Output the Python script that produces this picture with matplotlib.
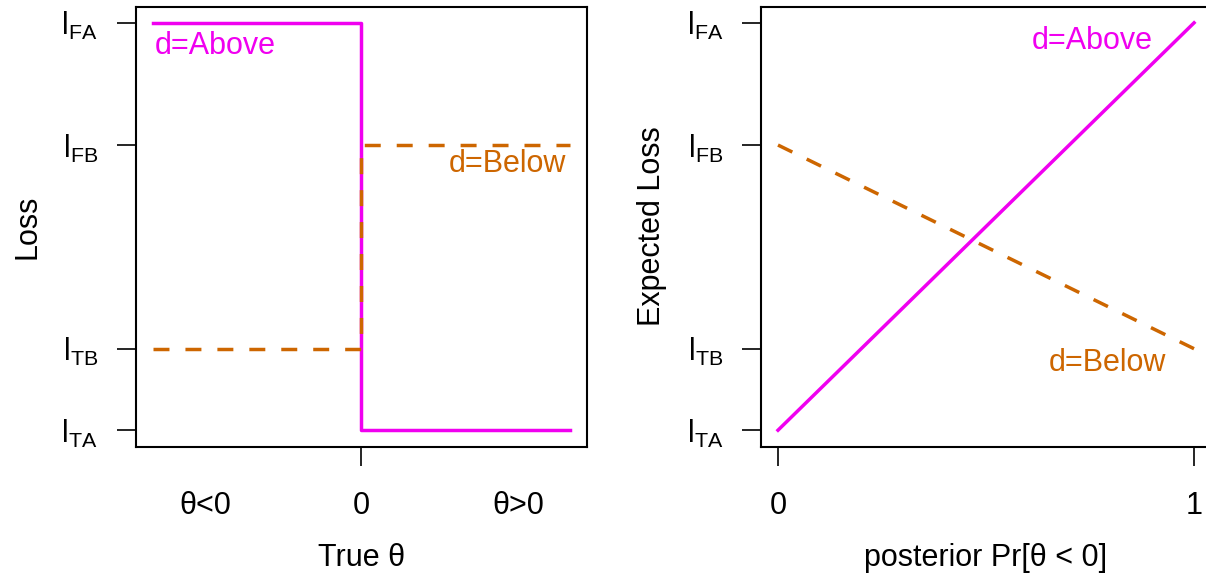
import matplotlib
matplotlib.use("Agg")
import matplotlib.pyplot as plt

matplotlib.rcParams.update({
    "font.family": "Liberation Sans",
    "font.size": 22,
    "mathtext.fontset": "custom",
    "mathtext.rm": "Liberation Sans",
    "mathtext.it": "Liberation Sans:italic",
})

# loss levels (arbitrary units, only the ordering matters)
loss_levels = [0.0, 1.0, 3.5, 5.0]
loss_labels = [r"$\mathregular{l_{TA}}$", r"$\mathregular{l_{TB}}$",
               r"$\mathregular{l_{FB}}$", r"$\mathregular{l_{FA}}$"]
l_TA, l_TB, l_FB, l_FA = loss_levels

# true theta axis: step at 0
theta_pts = [-1, 0, 0, 1]
theta_ticks = [-0.75, 0, 0.75]
theta_ticklabels = [u"\u03b8<0", "0", u"\u03b8>0"]
loss_above = [l_FA, l_FA, l_TA, l_TA]
loss_below = [l_TB, l_TB, l_FB, l_FB]

# posterior probability axis
post_p = [0, 1]
exp_above = [l_TA, l_FA]
exp_below = [l_FB, l_TB]

MAGENTA = "#F000F0"
ORANGE = "#CD6600"
LW = 2.5
DASH = (0, (4.6, 4.6))

fig = plt.figure(figsize=(12.06, 5.78), dpi=100)
ax1 = fig.add_axes([0.1130, 0.2275, 0.3735, 0.7612])
ax2 = fig.add_axes([0.6313, 0.2275, 0.3726, 0.7612])

for ax in (ax1, ax2):
    ax.set_yticks(loss_levels)
    ax.set_yticklabels(loss_labels)
    ax.set_ylim(-0.2, 5.2)
    ax.tick_params(length=13.7, width=1.2, pad=14, direction="out")
    ax.tick_params(axis="x", pad=18)
    for s in ax.spines.values():
        s.set_linewidth(1.5)

# left panel: loss as a function of the true theta
ax1.plot(theta_pts, loss_above, color=MAGENTA, lw=LW)
ax1.plot(theta_pts, loss_below, color=ORANGE, lw=LW, linestyle=DASH)
ax1.set_xlim(-1.08, 1.08)
ax1.set_xticks(theta_ticks)
ax1.set_xticklabels(theta_ticklabels)
ticks = ax1.xaxis.get_major_ticks()
ticks[0].tick1line.set_visible(False)
ticks[2].tick1line.set_visible(False)
ax1.set_xlabel(u"True \u03b8", labelpad=16)
ax1.set_ylabel("Loss", labelpad=14)
ax1.text(-0.70, 4.72, "d=Above", color=MAGENTA, ha="center", va="center")
ax1.text(0.70, 3.27, "d=Below", color=ORANGE, ha="center", va="center")

# right panel: expected loss vs posterior probability
ax2.plot(post_p, exp_above, color=MAGENTA, lw=LW)
ax2.plot(post_p, exp_below, color=ORANGE, lw=LW, linestyle=DASH)
ax2.set_xlim(-0.04, 1.04)
ax2.set_xticks([0, 1])
ax2.set_xticklabels(["0", "1"])
ax2.set_xlabel(u"posterior Pr[\u03b8 < 0]", labelpad=16)
ax2.set_ylabel("Expected Loss", labelpad=14)
ax2.text(0.755, 4.78, "d=Above", color=MAGENTA, ha="center", va="center")
ax2.text(0.792, 0.82, "d=Below", color=ORANGE, ha="center", va="center")

fig.savefig("out.png", dpi=100)
